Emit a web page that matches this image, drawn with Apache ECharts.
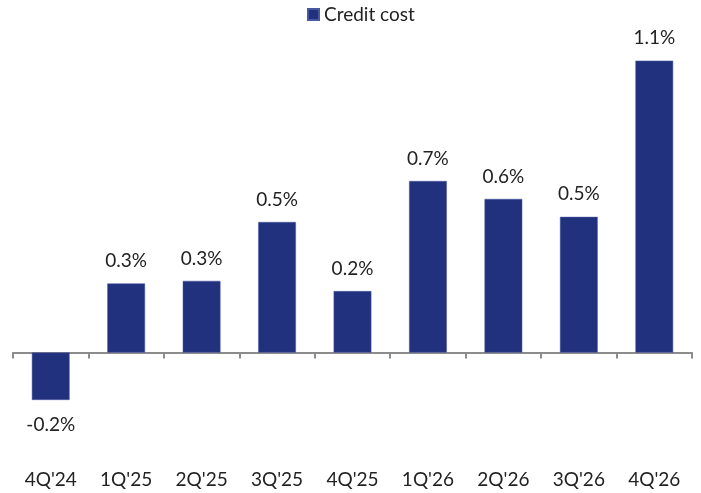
<!DOCTYPE html>
<html>
<head>
<meta charset="utf-8">
<script src="https://cdn.jsdelivr.net/npm/echarts@6/dist/echarts.min.js"></script>
<style>
html, body { margin: 0; padding: 0; background: #fff; }
#chart { width: 701px; height: 493px; }
</style>
</head>
<body>
<div id="chart"></div>
<script>
var quarters = ["4Q'24", "1Q'25", "2Q'25", "3Q'25", "4Q'25", "1Q'26", "2Q'26", "3Q'26", "4Q'26"];
var creditCost = [-0.185, 0.27, 0.28, 0.51, 0.24, 0.67, 0.60, 0.53, 1.14];

var myChart = echarts.init(document.getElementById('chart'));
var font = 'Lato';

var barData = creditCost.map(function (v) {
	return {
		value: v,
		label: { position: v < 0 ? 'bottom' : 'top', distance: v < 0 ? 15 : 13 }
	};
});

var option = {
	animation: false,
	textStyle: { fontFamily: font },
	legend: {
		top: 0,
		left: 302,
		itemWidth: 11,
		itemHeight: 11,
		icon: 'rect',
		textStyle: { fontSize: 19, color: '#222', fontFamily: font }
	},
	grid: {
		left: 13,
		right: 9,
		top: 45.3,
		bottom: 38,
		containLabel: false,
		outerBoundsMode: 'none'
	},
	xAxis: [{
		// labels along the bottom
		type: 'category',
		data: quarters,
		position: 'bottom',
		axisLine: { show: false, onZero: false },
		axisTick: { show: false },
		axisLabel: { color: '#222', fontSize: 19, margin: 15, fontFamily: font }
	}, {
		// zero line with ticks
		type: 'category',
		data: quarters,
		position: 'bottom',
		axisLine: { onZero: true, lineStyle: { color: '#8c8c8c', width: 2 } },
		axisTick: { show: true, length: 6, lineStyle: { color: '#8c8c8c', width: 2 } },
		axisLabel: { show: false }
	}],
	yAxis: {
		type: 'value',
		min: -0.4,
		max: 1.2,
		show: false,
		splitLine: { show: false }
	},
	series: [{
		name: 'Credit cost',
		type: 'bar',
		barWidth: '50%',
		data: barData,
		itemStyle: { color: '#21317e', borderColor: '#4a58a0', borderWidth: 0.5 },
		label: {
			show: true,
			color: '#222',
			fontSize: 19,
			fontFamily: font,
			formatter: function (p) { return p.value.toFixed(1) + '%'; }
		}
	}]
};
myChart.setOption(option);
</script>
</body>
</html>
